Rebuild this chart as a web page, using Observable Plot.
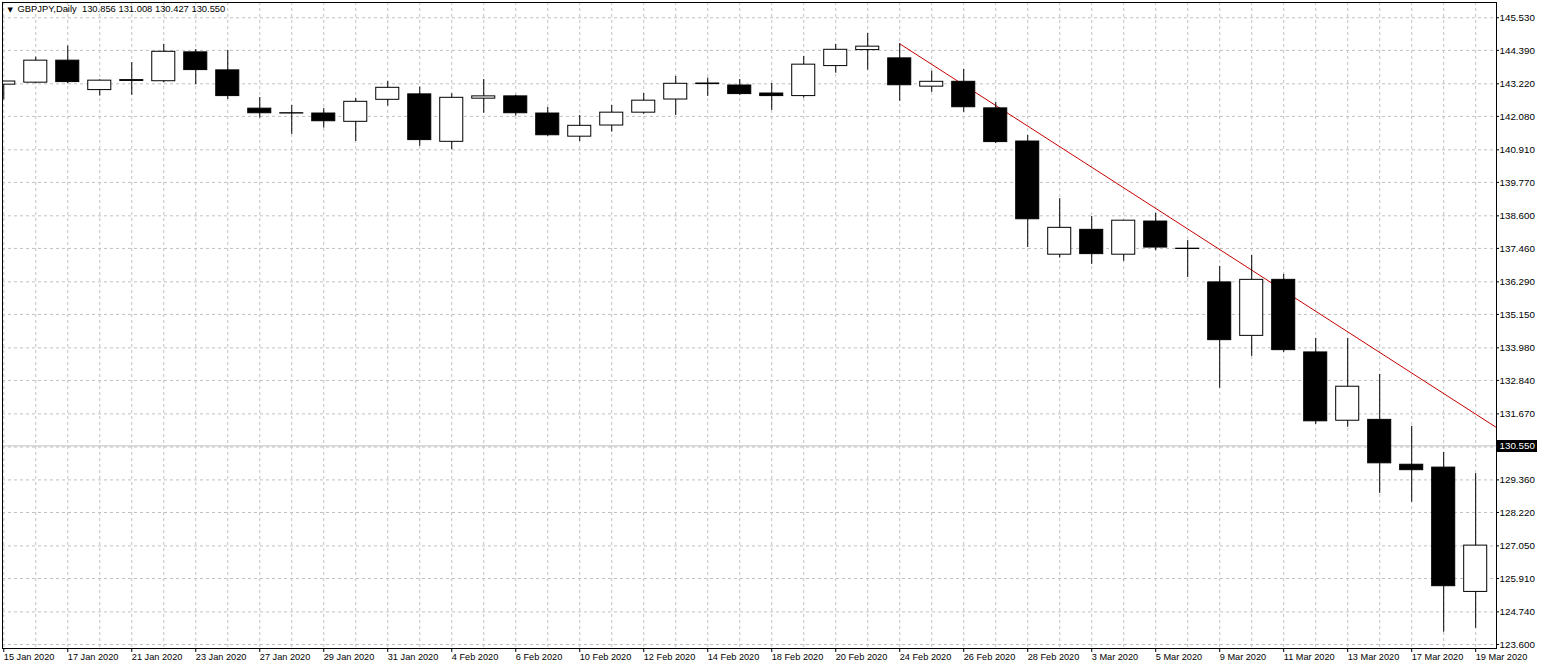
<!DOCTYPE html>
<html><head><meta charset="utf-8">
<script src="https://cdn.jsdelivr.net/npm/d3@7"></script>
<script src="https://cdn.jsdelivr.net/npm/@observablehq/plot@0.6"></script>
<style>body{margin:0;background:#fff} svg{display:block}</style>
</head><body><div id="chart"></div>
<script>
const symbol = "GBPJPY,Daily";
const headerValues = [130.856, 131.008, 130.427, 130.550];
const dates = ["15 Jan 2020","16 Jan 2020","17 Jan 2020","20 Jan 2020","21 Jan 2020","22 Jan 2020","23 Jan 2020","24 Jan 2020","27 Jan 2020","28 Jan 2020","29 Jan 2020","30 Jan 2020","31 Jan 2020","3 Feb 2020","4 Feb 2020","5 Feb 2020","6 Feb 2020","7 Feb 2020","10 Feb 2020","11 Feb 2020","12 Feb 2020","13 Feb 2020","14 Feb 2020","17 Feb 2020","18 Feb 2020","19 Feb 2020","20 Feb 2020","21 Feb 2020","24 Feb 2020","25 Feb 2020","26 Feb 2020","27 Feb 2020","28 Feb 2020","2 Mar 2020","3 Mar 2020","4 Mar 2020","5 Mar 2020","6 Mar 2020","9 Mar 2020","10 Mar 2020","11 Mar 2020","12 Mar 2020","13 Mar 2020","16 Mar 2020","17 Mar 2020","18 Mar 2020","19 Mar 2020"];
const open  = [143.19,143.26,144.03,143.00,143.32,143.31,144.32,143.69,142.35,142.19,142.18,141.89,142.66,142.85,141.19,142.70,142.78,142.18,141.37,141.76,142.21,142.67,143.21,143.16,142.88,142.79,143.84,144.40,144.11,143.12,143.29,142.36,141.20,137.24,138.11,137.24,138.40,137.45,136.27,134.40,136.36,133.82,131.43,131.46,129.89,129.79,125.44];
const high  = [143.30,144.15,144.54,143.36,143.96,144.60,144.42,144.39,142.74,142.46,142.35,142.71,143.30,143.10,142.87,143.37,142.82,142.39,142.11,142.46,142.88,143.48,143.42,143.37,143.23,144.18,144.60,144.98,144.62,143.66,143.72,142.57,141.41,139.20,138.58,138.44,138.69,137.74,136.83,137.21,136.55,134.31,134.31,133.05,131.23,130.32,129.58];
const low   = [142.66,143.22,143.22,142.79,142.82,143.26,143.19,142.67,142.02,141.45,141.67,141.20,142.44,141.03,140.91,142.19,142.09,141.38,141.20,141.53,142.15,142.11,142.78,142.82,142.29,142.72,143.59,143.70,142.61,142.92,142.22,141.13,137.49,137.12,136.90,137.01,137.38,136.44,132.57,133.68,133.82,131.30,131.20,128.89,128.58,124.03,124.17];
const close = [143.30,144.03,143.28,143.33,143.35,144.34,143.70,142.79,142.19,142.18,141.91,142.59,143.08,141.25,142.73,142.78,142.19,141.42,141.75,142.21,142.63,143.22,143.23,142.86,142.79,143.89,144.41,144.52,143.17,143.29,142.40,141.18,138.48,138.18,137.26,138.43,137.49,137.44,134.25,136.36,133.90,131.41,132.62,129.94,129.70,125.64,127.06];
const yTicks = [145.53,144.39,143.22,142.08,140.91,139.77,138.60,137.46,136.29,135.15,133.98,132.84,131.67,129.36,128.22,127.05,125.91,124.74,123.60];
const yGridExtra = [130.51];
const lastPrice = 130.550;
const trendAnchors = [{i: 28, p: 144.62}, {i: 46, p: 131.66}];

const candles = dates.map((d, i) => ({i, date: d, open: open[i], high: high[i], low: low[i], close: close[i]}));
const upC = candles.filter(d => d.close >= d.open);
const downC = candles.filter(d => d.close < d.open);
const xDomain = [-0.04, 46.65];
const slope = (trendAnchors[1].p - trendAnchors[0].p) / (trendAnchors[1].i - trendAnchors[0].i);
const trend = [trendAnchors[0], {i: xDomain[1], p: trendAnchors[0].p + slope * (xDomain[1] - trendAnchors[0].i)}];
const fmt = d3.format(".3f");
const half = 0.36;

const chart = Plot.plot({
  width: 1541, height: 668,
  marginLeft: 2, marginRight: 45, marginTop: 2, marginBottom: 20,
  x: {type: "linear", domain: xDomain},
  y: {domain: [123.46, 146.065]},
  style: {fontFamily: "'Liberation Sans', Arial, sans-serif", fontSize: "9px", background: "#fff", color: "#000"},
  marks: [
    Plot.gridX(d3.range(dates.length), {stroke: "#c0c0c0", strokeOpacity: 1, strokeDasharray: "3,3"}),
    Plot.gridY(yTicks.concat(yGridExtra), {stroke: "#c0c0c0", strokeOpacity: 1, strokeDasharray: "3,3"}),
    Plot.ruleY([lastPrice], {stroke: "#c0c0c0", strokeWidth: 1}),
    Plot.line(trend, {x: "i", y: "p", stroke: "#c80000", strokeWidth: 1, clip: true}),
    Plot.ruleX(candles, {x: "i", y1: "low", y2: "high", stroke: "#000", strokeWidth: 1, clip: true}),
    Plot.rect(upC, {x1: d => d.i - half, x2: d => d.i + half, y1: "open", y2: "close", fill: "#fff", stroke: "#000", clip: true}),
    Plot.rect(downC, {x1: d => d.i - half, x2: d => d.i + half, y1: "open", y2: "close", fill: "#000", stroke: "#000", clip: true}),
    Plot.frame({stroke: "#000"}),
    Plot.axisX(d3.range(0, dates.length, 2), {tickFormat: i => dates[i], textAnchor: "start", tickSize: 4, tickPadding: 1, fontSize: 9.2, label: null}),
    Plot.axisY(yTicks, {anchor: "right", tickFormat: fmt, tickSize: 2, tickPadding: 1, fontSize: 9.8, label: null}),
    Plot.ruleY([lastPrice], {x1: xDomain[1], x2: xDomain[1] + 41 / 32, stroke: "#000", strokeWidth: 12}),
    Plot.text([lastPrice], {x: xDomain[1], y: d => d, text: fmt, textAnchor: "start", dx: 3, fill: "#fff", fontSize: 9.8}),
    Plot.text(["\u25BC"], {frameAnchor: "top-left", dx: 5, dy: 5, fontSize: 7, fontFamily: "DejaVu Sans"}),
    Plot.text([symbol + "  " + headerValues.map(fmt).join(" ")], {frameAnchor: "top-left", dx: 15, dy: 3, fontSize: 9.4})
  ]
});
document.getElementById("chart").append(chart);
</script>
</body></html>
